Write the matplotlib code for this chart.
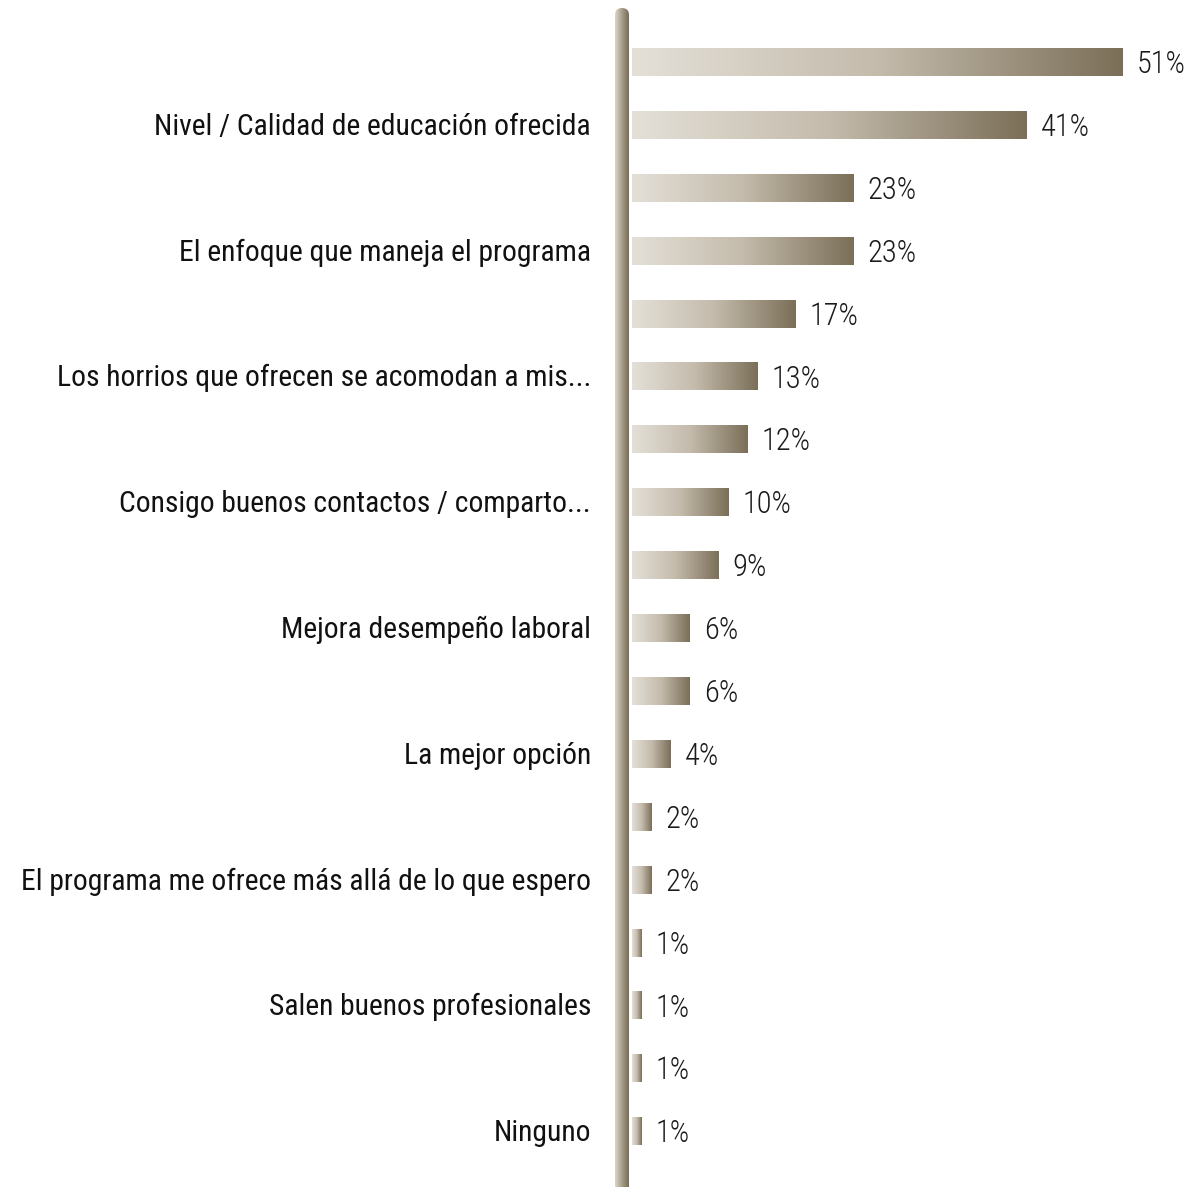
import numpy as np
import matplotlib

matplotlib.use("Agg")
import matplotlib.pyplot as plt
from matplotlib.colors import LinearSegmentedColormap
from matplotlib.patches import FancyBboxPatch

# data (top to bottom)
categories = [
    "",
    "Nivel / Calidad de educación ofrecida",
    "",
    "El enfoque que maneja el programa",
    "",
    "Los horrios que ofrecen se acomodan a mis...",
    "",
    "Consigo buenos contactos / comparto...",
    "",
    "Mejora desempeño laboral",
    "",
    "La mejor opción",
    "",
    "El programa me ofrece más allá de lo que espero",
    "",
    "Salen buenos profesionales",
    "",
    "Ninguno",
]
values = [51, 41, 23, 23, 17, 13, 12, 10, 9, 6, 6, 4, 2, 2, 1, 1, 1, 1]

plt.rcParams["font.family"] = ["Roboto Condensed", "DejaVu Sans"]

W, H = 1195, 1187
fig = plt.figure(figsize=(W / 100, H / 100), dpi=100)

bar_cmap = LinearSegmentedColormap.from_list("bar", ["#e4e0d8", "#c4bbac", "#7b6f58"])
pole_cmap = LinearSegmentedColormap.from_list("pole", ["#dcd6ca", "#a89d8a", "#786b54"])

# main axes: x=0 at bar start, 9.62 px per percent
x0 = 632
ppu = 9.62
pitch = 62.9
first = 62
ax = fig.add_axes([x0 / W, 0, (W - x0) / W, 1])
ax.set_xlim(0, (W - x0) / ppu)
ax.set_ylim((H - first) / pitch, -first / pitch)
ax.axis("off")

grad = np.linspace(0, 1, 256).reshape(1, -1)
bh = 0.445
for i, v in enumerate(values):
    ax.imshow(grad, cmap=bar_cmap, aspect="auto", interpolation="bilinear",
              extent=[0, v, i + bh / 2, i - bh / 2], zorder=2)
    ax.text(v + 14 / ppu, i + 0.04, f"{v}%", ha="left", va="center",
            fontsize=22, fontweight=300, color="#1a1a1a", zorder=3)
    if categories[i]:
        ax.text(-41 / ppu, i + 0.03, categories[i], ha="right", va="center",
                fontsize=21.3, color="#111111", clip_on=False)

# vertical pole with rounded top
px0, pw, ptop = 615, 14, 8
pax = fig.add_axes([px0 / W, 0, pw / W, 1])
pax.set_xlim(0, pw)
pax.set_ylim(0, H)
pax.axis("off")
img = pax.imshow(grad, cmap=pole_cmap, aspect="auto", interpolation="bilinear",
                 extent=[0, pw, -20, H - ptop])
clip = FancyBboxPatch((0, -20), pw, H - ptop + 20,
                      boxstyle=f"round,pad=0,rounding_size={pw / 2}",
                      transform=pax.transData, facecolor="none", edgecolor="none")
pax.add_patch(clip)
img.set_clip_path(clip)

fig.savefig("out.png", dpi=100)
